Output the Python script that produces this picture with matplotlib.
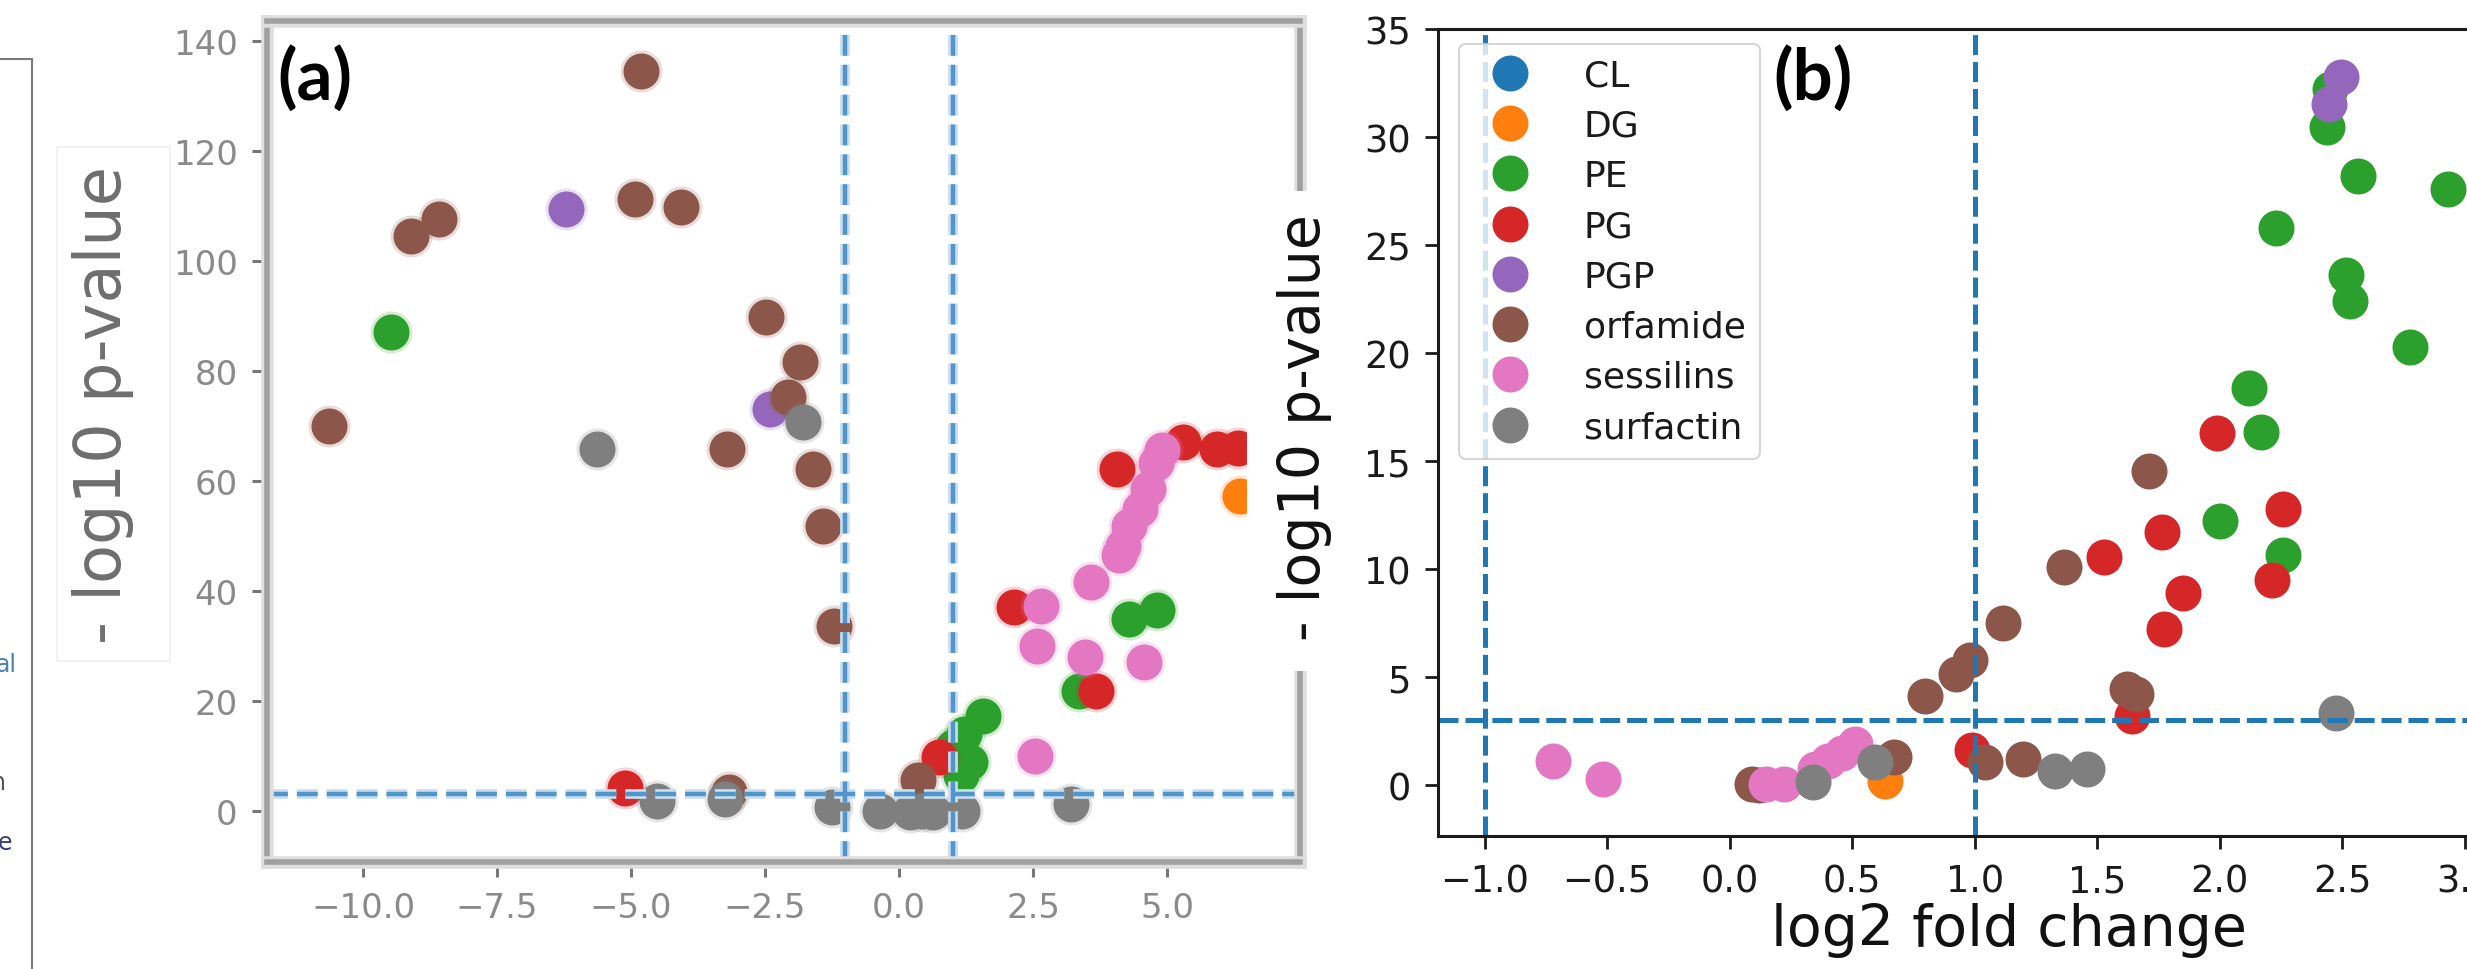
import matplotlib
matplotlib.use("Agg")
import numpy as np
import matplotlib.pyplot as plt
from matplotlib.lines import Line2D
from matplotlib.patches import Rectangle
from matplotlib.transforms import Bbox, TransformedBbox
import matplotlib.patheffects as pe

# ---------------- data ----------------
categories = ['CL', 'DG', 'PE', 'PG', 'PGP', 'orfamide', 'sessilins', 'surfactin']
palette = ['#1f77b4', '#ff7f0e', '#2ca02c', '#d62728', '#9467bd', '#8c564b', '#e377c2', '#7f7f7f']

# panel (a)
a_CL_x, a_CL_y = [], []
a_DG_x, a_DG_y = [6.36], [57.3]
a_PE_x = [-9.47, 4.29, 4.82, 3.36, 1.57, 1.21, 1.00, 1.33, 1.15]
a_PE_y = [87.0, 34.8, 36.4, 21.8, 17.3, 14.0, 11.5, 8.8, 6.5]
a_PG_x = [-5.12, 0.75, 2.14, 3.68, 4.07, 5.29, 5.93, 6.32]
a_PG_y = [4.2, 9.7, 37.0, 21.8, 62.1, 67.0, 65.8, 66.0]
a_PGP_x = [-6.22, -2.41]
a_PGP_y = [109.4, 73.0]
a_orf_x = [-10.63, -9.11, -8.58, -4.81, -4.93, -4.06, -3.20, -2.49, -1.85, -2.08,
           -1.61, -1.42, -1.21, -3.18, 0.36]
a_orf_y = [70.0, 104.5, 107.6, 134.4, 111.2, 109.7, 65.8, 89.7, 81.5, 75.2,
           62.1, 51.8, 33.6, 3.4, 5.5]
a_ses_x = [4.90, 4.79, 4.64, 4.50, 4.29, 4.18, 4.11, 2.64, 3.59, 2.57, 3.46, 4.57, 2.54]
a_ses_y = [65.5, 63.3, 58.5, 54.8, 51.8, 48.2, 46.4, 37.3, 41.5, 30.0, 27.9, 27.0, 10.0]
a_sur_x = [-5.64, -1.79, -4.52, -3.24, -1.25, -0.36, 0.20, 0.43, 0.64, 1.18, 3.21]
a_sur_y = [65.8, 70.7, 1.8, 2.1, 0.6, 0.0, -0.2, 0.0, -0.3, 0.0, 1.2]

# panel (b)
b_CL_x, b_CL_y = [], []
b_DG_x, b_DG_y = [0.632], [0.2]
b_PE_x = [2.45, 2.437, 2.562, 2.93, 2.228, 2.513, 2.532, 2.775, 2.118, 2.168, 2.0, 2.256]
b_PE_y = [32.2, 30.46, 28.18, 27.6, 25.8, 23.6, 22.4, 20.28, 18.4, 16.35, 12.2, 10.66]
b_PG_x = [0.987, 1.529, 1.643, 1.765, 1.772, 1.85, 1.988, 2.213, 2.256]
b_PG_y = [1.6, 10.55, 3.2, 11.7, 7.2, 8.9, 16.3, 9.5, 12.8]
b_PGP_x = [2.444, 2.496]
b_PGP_y = [31.54, 32.77]
b_orf_x = [0.09, 0.12, 0.67, 0.796, 0.924, 0.98, 1.04, 1.197, 1.116, 1.363, 1.62, 1.657, 1.709]
b_orf_y = [0.05, 0.0, 1.3, 4.13, 5.15, 5.8, 1.05, 1.2, 7.5, 10.1, 4.43, 4.2, 14.55]
b_ses_x = [-0.721, -0.516, 0.15, 0.22, 0.35, 0.40, 0.46, 0.51]
b_ses_y = [1.12, 0.28, 0.05, 0.05, 0.74, 1.12, 1.5, 1.9]
b_sur_x = [0.341, 0.592, 1.326, 1.456, 2.474]
b_sur_y = [0.12, 1.05, 0.66, 0.74, 3.35]

a_x_ticks = [-10, -7.5, -5, -2.5, 0, 2.5, 5]
a_y_ticks = [0, 20, 40, 60, 80, 100, 120, 140]
b_x_ticks = [-1.0, -0.5, 0.0, 0.5, 1.0, 1.5, 2.0, 2.5, 3.0]
b_y_ticks = [0, 5, 10, 15, 20, 25, 30, 35]
fc_threshold = 1.0
p_threshold = 3.0

a_series = [(a_CL_x, a_CL_y), (a_DG_x, a_DG_y), (a_PE_x, a_PE_y), (a_PG_x, a_PG_y),
            (a_PGP_x, a_PGP_y), (a_orf_x, a_orf_y), (a_ses_x, a_ses_y), (a_sur_x, a_sur_y)]
b_series = [(b_CL_x, b_CL_y), (b_DG_x, b_DG_y), (b_PE_x, b_PE_y), (b_PG_x, b_PG_y),
            (b_PGP_x, b_PGP_y), (b_orf_x, b_orf_y), (b_ses_x, b_ses_y), (b_sur_x, b_sur_y)]

# ---------------- figure ----------------
plt.rcParams['font.family'] = ['DejaVu Sans']
plt.rcParams['lines.scale_dashes'] = False
W, H = 2467, 970
fig = plt.figure(figsize=(W / 100, H / 100), dpi=100)
fig.patch.set_facecolor('white')


def fx(px):
    return px / W


def fy(py):
    return 1 - py / H


def add_axes_px(left, top, right, bottom):
    return fig.add_axes([fx(left), fy(bottom), (right - left) / W, (bottom - top) / H])


msize = (36 * 0.72) ** 2

# ---- panel (a) ----
ax_a = add_axes_px(267, 22, 1300, 863)
ax_a.set_zorder(0)
ax_a.set_xlim(-11.79, 7.48)
ax_a.set_ylim(-9.33, 143.58)
clip = TransformedBbox(Bbox([[0, 0], [(1247 - 267) / (1300 - 267), 1]]), ax_a.transAxes)
for (xs, ys), col in zip(a_series, palette):
    if not xs:
        continue
    halo = ax_a.scatter(xs, ys, s=(42 * 0.72) ** 2, color=col, alpha=0.2, linewidths=0)
    halo.set_clip_box(clip)
    pts = ax_a.scatter(xs, ys, s=msize, color=col, linewidths=0)
    pts.set_clip_box(clip)

for col, lw in [('#c9def0', 7.0), ('#5096cb', 3.2)]:
    ax_a.axvline(-fc_threshold, color=col, lw=lw, dashes=(15, 6.5))
    ax_a.axvline(fc_threshold, color=col, lw=lw, dashes=(15, 6.5))
    ax_a.axhline(p_threshold, color=col, lw=lw, dashes=(15, 6.5))

ax_a.set_xticks(a_x_ticks)
ax_a.set_yticks(a_y_ticks)
ax_a.tick_params(length=11, width=2.2, color='#777777', labelcolor='#8a8a8a',
                 labelsize=24.5, pad=10)
for sp in ax_a.spines.values():
    sp.set_color('#a0a0a0')
    sp.set_linewidth(4)
    sp.set_path_effects([pe.Stroke(linewidth=9, foreground='#dedede'), pe.Normal()])

# white region of the overlapping panel (b) image
fig.patches.append(Rectangle((fx(1247), fy(672)), (1350 - 1247) / W, (672 - 192) / H,
                             transform=fig.transFigure, facecolor='white',
                             edgecolor='none', zorder=1))

# ---- panel (b) ----
ax_b = add_axes_px(1438, 30, 2612, 837)
ax_b.set_zorder(2)
ax_b.set_xlim(-1.19, 3.6)
ax_b.set_ylim(-2.36, 35)
for (xs, ys), col in zip(b_series, palette):
    if not xs:
        continue
    ax_b.scatter(xs, ys, s=msize, color=col, linewidths=0)
ax_b.axvline(-fc_threshold, color='#1f77b4', lw=3.6, dashes=(14.4, 5))
ax_b.axvline(fc_threshold, color='#1f77b4', lw=3.6, dashes=(14.4, 5))
ax_b.axhline(p_threshold, color='#1f77b4', lw=3.6, dashes=(14.4, 5))
ax_b.set_xticks(b_x_ticks)
ax_b.set_yticks(b_y_ticks)
ax_b.tick_params(length=9.4, width=2, color='#1a1a1a', labelcolor='#1a1a1a',
                 labelsize=26.5, pad=10)
for sp in ax_b.spines.values():
    sp.set_color('#1a1a1a')
    sp.set_linewidth(2.2)

handles = [Line2D([], [], marker='o', linestyle='None', markersize=25.9,
                  markerfacecolor=c, markeredgewidth=0) for c in palette]
leg = ax_b.legend(handles, categories, loc='upper left',
                  bbox_to_anchor=(fx(1459), fy(45)), bbox_transform=fig.transFigure,
                  borderaxespad=0, fontsize=26, labelspacing=0.45, handletextpad=1.05,
                  handlelength=2.0, borderpad=0.4, framealpha=0.8, edgecolor='#cccccc')
leg.get_frame().set_linewidth(1.5)
for t in leg.get_texts():
    t.set_color('#1a1a1a')

# ---- labels ----
fig.text(fx(1305), fy(428), '- log10 p-value', rotation=90, ha='center', va='center',
         fontsize=41, color='#111111', zorder=5)
fig.text(fx(2009), fy(903), 'log2 fold change', ha='center', va='top',
         fontsize=41, color='#111111', zorder=5)
fig.text(fx(103), fy(405), '- log10 p-value', rotation=90, ha='center', va='center',
         fontsize=46, color='#6e6e6e', zorder=5)
fig.text(fx(277), fy(45), '(a)', family='Lato', fontweight='bold', fontsize=51,
         ha='left', va='top', color='black', zorder=5)
fig.text(fx(1773), fy(45), '(b)', family='Lato', fontweight='bold', fontsize=51,
         ha='left', va='top', color='black', zorder=5)

# ---- left-edge fragments of a neighbouring panel ----
fig.patches.append(Rectangle((fx(-10), fy(1000)), 42 / W, (1000 - 60) / H,
                             transform=fig.transFigure, fill=False,
                             edgecolor='#7a7a7a', lw=1.5, zorder=1))
fig.patches.append(Rectangle((fx(57), fy(662)), (170 - 57) / W, (662 - 148) / H,
                             transform=fig.transFigure, fill=False,
                             edgecolor='#f0f0f0', lw=1.2, zorder=1))
fig.text(fx(17), fy(665), 'al', ha='right', va='center', fontsize=17, color='#4a7fb5')
fig.text(fx(6), fy(783), 'n', ha='right', va='center', fontsize=17, color='#555555')
fig.text(fx(12), fy(843), 'e', ha='right', va='center', fontsize=17, color='#3a3f6e')

fig.savefig('out.png', dpi=100, facecolor='white')
